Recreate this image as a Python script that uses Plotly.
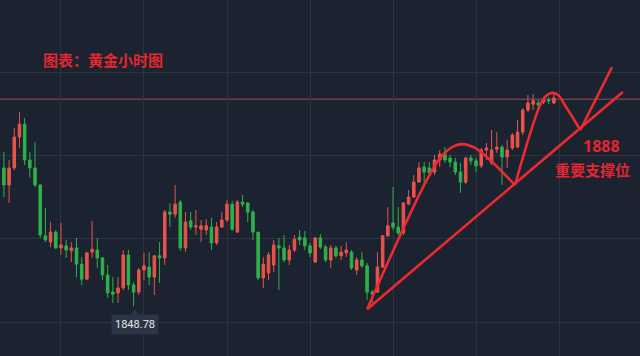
import plotly.graph_objects as go

# ---- data (gold hourly candles) ----
idx = list(range(107))
opens = [1882.0,1877.9,1882.0,1889.4,1892.5,1883.9,1882.0,1877.9,1865.7,1864.2,
         1866.6,1862.8,1863.3,1862.1,1862.8,1858.9,1855.3,1861.8,1862.3,1860.4,
         1856.3,1852.2,1852.0,1853.2,1861.1,1853.9,1852.2,1857.5,1858.2,1855.8,
         1860.9,1860.4,1871.4,1870.9,1873.8,1862.8,1869.3,1867.8,1867.3,1867.1,
         1867.8,1864.0,1867.8,1869.5,1873.3,1866.6,1873.8,1873.6,1871.4,1866.6,
         1855.6,1856.8,1858.7,1863.3,1862.8,1859.9,1862.3,1865.4,1865.2,1863.3,
         1859.4,1865.2,1863.0,1859.9,1862.8,1860.9,1861.6,1861.8,1857.5,1859.9,
         1858.5,1852.2,1852.2,1858.2,1865.7,1868.8,1867.8,1866.4,1873.3,1875.0,
         1878.6,1882.2,1882.0,1881.0,1883.9,1885.3,1884.4,1883.4,1881.0,1878.6,
         1884.4,1883.7,1882.5,1886.3,1883.2,1886.5,1887.0,1884.6,1886.8,1887.0,
         1890.6,1895.9,1897.3,1897.6,1897.8,1898.3,1897.6]
closes = [1877.9,1882.0,1889.4,1892.5,1883.9,1882.0,1877.9,1865.9,1864.7,1866.6,
          1862.8,1863.5,1862.3,1862.8,1858.9,1855.3,1861.6,1862.5,1860.4,1856.3,
          1852.0,1851.7,1853.2,1861.1,1853.9,1852.2,1857.5,1858.5,1855.8,1860.9,
          1860.4,1871.4,1870.9,1873.3,1862.8,1869.0,1867.8,1868.1,1868.1,1868.1,
          1864.0,1867.8,1869.5,1873.3,1867.3,1873.8,1873.3,1871.4,1866.6,1855.6,
          1858.9,1861.1,1863.5,1862.8,1859.9,1862.3,1864.9,1864.7,1863.3,1861.6,
          1865.2,1863.0,1859.9,1862.8,1860.9,1861.8,1862.3,1858.0,1859.9,1858.5,
          1852.2,1851.7,1858.2,1865.7,1868.1,1867.8,1866.4,1873.6,1875.0,1878.6,
          1882.0,1881.0,1880.8,1883.9,1885.3,1883.9,1883.4,1881.0,1878.6,1884.4,
          1883.7,1882.5,1886.3,1886.8,1886.3,1887.0,1884.6,1886.3,1889.9,1890.6,
          1895.9,1897.6,1898.1,1897.1,1898.3,1898.1,1898.8]
highs = [1885.8,1883.9,1891.6,1895.4,1894.0,1885.8,1888.2,1878.1,1872.4,1869.0,
         1867.1,1868.8,1864.7,1864.2,1865.2,1860.6,1861.8,1869.3,1865.2,1860.6,
         1858.7,1855.8,1855.8,1862.3,1862.3,1854.6,1858.0,1861.6,1861.8,1861.1,
         1864.2,1871.9,1873.6,1877.9,1874.3,1871.4,1871.4,1871.9,1869.5,1869.7,
         1870.0,1869.0,1871.4,1874.3,1874.1,1874.3,1875.5,1873.8,1871.9,1866.6,
         1860.6,1861.8,1864.7,1865.2,1865.9,1863.5,1865.9,1867.1,1866.9,1864.0,
         1865.4,1866.1,1863.5,1863.5,1863.3,1863.3,1864.2,1862.3,1860.6,1861.8,
         1859.2,1852.7,1861.8,1865.9,1872.6,1877.4,1872.6,1873.8,1876.7,1880.3,
         1883.4,1883.4,1883.4,1885.1,1886.3,1887.0,1885.1,1884.4,1883.2,1884.6,
         1885.1,1884.4,1886.8,1888.0,1891.1,1890.6,1887.5,1888.7,1890.4,1893.5,
         1896.4,1899.5,1899.7,1898.3,1899.0,1899.0,1899.7]
lows = [1875.0,1873.6,1881.5,1886.8,1882.7,1879.6,1877.4,1865.2,1864.2,1863.0,
        1862.5,1861.1,1860.4,1859.4,1855.8,1853.9,1855.1,1860.4,1858.0,1855.1,
        1850.8,1849.6,1849.6,1852.7,1852.7,1848.78,1851.5,1855.1,1853.9,1851.5,
        1854.4,1858.7,1867.8,1870.0,1862.1,1861.8,1867.1,1865.9,1864.2,1865.9,
        1862.3,1863.5,1867.6,1869.0,1866.9,1866.4,1872.6,1869.0,1864.7,1855.1,
        1853.2,1855.1,1857.0,1852.7,1859.4,1858.7,1861.8,1863.5,1862.3,1860.6,
        1859.2,1862.5,1859.4,1858.0,1860.4,1859.9,1860.6,1857.5,1856.3,1858.0,
        1850.3,1849.6,1852.0,1858.0,1865.4,1867.1,1865.9,1865.9,1873.1,1874.8,
        1878.4,1877.9,1880.3,1880.3,1882.2,1883.2,1882.2,1880.3,1876.0,1878.1,
        1882.7,1881.0,1882.0,1883.9,1882.7,1885.6,1877.9,1882.0,1886.3,1886.8,
        1889.9,1895.4,1895.9,1895.9,1897.3,1897.3,1897.3]

resistance_level = 1898.5
low_label = "1848.78"
low_index = 25
low_value = 1848.78

# hand-drawn analysis lines (index, price)
support_x = [70.0, 119.3]
support_y = [1848.1, 1900.2]
arc1_x = [70.0, 80.8, 84.1, 86.4, 88.3, 90.8, 93.7, 98.5]
arc1_y = [1848.1, 1877.4, 1884.4, 1887.0, 1887.7, 1886.8, 1883.9, 1877.9]
arc2_x = [98.5, 103.3, 104.5, 105.7, 106.8, 108.2, 111.1]
arc2_y = [1877.9, 1896.9, 1899.3, 1900.0, 1899.5, 1896.9, 1891.1]
up_x = [111.1, 117.2]
up_y = [1891.1, 1906.2]

title_text = "图表：黄金小时图"
level_text = "1888"
level_caption = "重要支撑位"

BG = "#1b2230"
GRID = "#2c3444"
UP = "#e8544a"
DOWN = "#2fb14a"
DRAW = "#ec2a31"
TXT = "#e3262f"

fig = go.Figure()
fig.add_trace(go.Candlestick(
    x=idx, open=opens, high=highs, low=lows, close=closes,
    increasing=dict(line=dict(color=UP, width=1), fillcolor=UP),
    decreasing=dict(line=dict(color=DOWN, width=1), fillcolor=DOWN),
    whiskerwidth=0, hoverinfo="skip", showlegend=False))

for xs, ys, shape in [(support_x, support_y, "linear"), (arc1_x, arc1_y, "spline"),
                      (arc2_x, arc2_y, "spline"), (up_x, up_y, "linear")]:
    fig.add_trace(go.Scatter(x=xs, y=ys, mode="lines",
                             line=dict(color=DRAW, width=2.6, shape=shape, smoothing=1.0),
                             hoverinfo="skip", showlegend=False))

fig.add_shape(type="line", xref="paper", x0=0, x1=1, yref="y",
              y0=resistance_level, y1=resistance_level,
              line=dict(color="#a5485a", width=1), layer="below")

# low label with pointer
fig.add_trace(go.Scatter(x=[low_index + 0.2], y=[low_value - 1.45], mode="markers",
                         marker=dict(symbol="triangle-up", size=7, color="#2c3546"),
                         hoverinfo="skip", showlegend=False))
fig.add_annotation(x=low_index + 0.2, y=low_value - 1.9, xref="x", yref="y",
                   text=low_label, showarrow=False, yanchor="top",
                   font=dict(family="Roboto, Noto Sans", size=11, color="#e8e8ea"),
                   bgcolor="#2c3546", borderpad=3)

fig.add_annotation(x=103/640, y=1-60/356, xref="paper", yref="paper",
                   xanchor="center", yanchor="middle",
                   text="<b>" + title_text + "</b>", showarrow=False,
                   font=dict(family="Noto Sans CJK SC", size=15, color=TXT))
fig.add_annotation(x=601/640, y=1-146/356, xref="paper", yref="paper",
                   xanchor="center", yanchor="middle",
                   text="<b>" + level_text + "</b>", showarrow=False,
                   font=dict(family="Noto Sans, Noto Sans CJK SC", size=16, color=TXT))
fig.add_annotation(x=592/640, y=1-169/356, xref="paper", yref="paper",
                   xanchor="center", yanchor="middle",
                   text="<b>" + level_caption + "</b>", showarrow=False,
                   font=dict(family="Noto Sans CJK SC", size=15, color=TXT))

fig.update_layout(
    width=640, height=356, margin=dict(l=0, r=0, t=0, b=0),
    paper_bgcolor=BG, plot_bgcolor=BG, hovermode=False,
    xaxis=dict(range=[-0.75, 122.6], showticklabels=False, showgrid=True,
               gridcolor=GRID, gridwidth=1, tick0=11, dtick=16, zeroline=False,
               rangeslider=dict(visible=False), fixedrange=True),
    yaxis=dict(range=[1836.86, 1922.3], showticklabels=False, showgrid=True,
               gridcolor=GRID, gridwidth=1, tick0=1845, dtick=20, zeroline=False,
               fixedrange=True),
)
fig.write_html("out.html", config={"displayModeBar": False},
               post_script="document.body.style.margin='0';document.body.style.background='" + BG + "';")
